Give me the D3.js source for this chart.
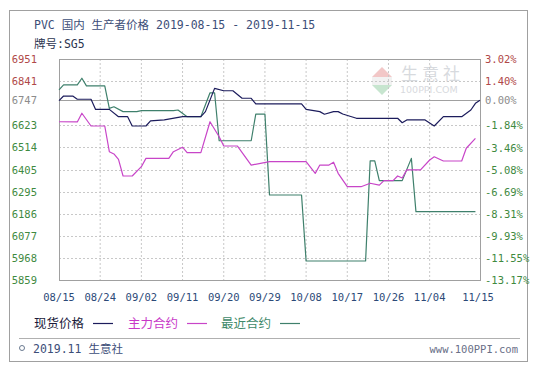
<!DOCTYPE html>
<html>
<head>
<meta charset="utf-8">
<script src="https://cdn.jsdelivr.net/npm/d3@7"></script>
<style>
  body { margin: 0; background: #fff; }
  text { font-family: "DejaVu Sans Mono", "Noto Sans CJK SC", monospace; }
</style>
</head>
<body>
<div id="chart"></div>
<script>
// 现货价格 (spot)
const spotDates = ["2019-08-15","2019-08-16","2019-08-18","2019-08-19","2019-08-22","2019-08-23","2019-08-26","2019-08-28","2019-08-30","2019-08-31","2019-09-03","2019-09-04","2019-09-07","2019-09-11","2019-09-15","2019-09-16","2019-09-18","2019-09-20","2019-09-22","2019-09-24","2019-09-26","2019-09-27","2019-10-07","2019-10-08","2019-10-11","2019-10-12","2019-10-14","2019-10-15","2019-10-16","2019-10-19","2019-10-28","2019-10-29","2019-10-30","2019-11-03","2019-11-05","2019-11-07","2019-11-11","2019-11-13","2019-11-14","2019-11-15"];
const spotValues = [6745,6768,6768,6752,6752,6702,6702,6666,6666,6620,6620,6645,6650,6666,6666,6691,6806,6794,6794,6757,6757,6729,6729,6702,6691,6678,6691,6691,6679,6658,6658,6636,6650,6650,6620,6666,6666,6699,6732,6747];

// 主力合约 (main contract)
const mainDates = ["2019-08-15","2019-08-19","2019-08-20","2019-08-22","2019-08-25","2019-08-26","2019-08-27","2019-08-28","2019-08-29","2019-08-31","2019-09-02","2019-09-03","2019-09-08","2019-09-09","2019-09-11","2019-09-12","2019-09-15","2019-09-17","2019-09-19","2019-09-20","2019-09-23","2019-09-26","2019-09-30","2019-10-08","2019-10-10","2019-10-11","2019-10-13","2019-10-14","2019-10-15","2019-10-17","2019-10-20","2019-10-22","2019-10-24","2019-10-25","2019-10-27","2019-10-28","2019-10-29","2019-10-30","2019-11-02","2019-11-04","2019-11-05","2019-11-07","2019-11-11","2019-11-12","2019-11-14"];
const mainValues = [6641,6640,6683,6620,6620,6493,6482,6455,6373,6373,6419,6460,6460,6493,6515,6488,6488,6641,6567,6521,6521,6427,6444,6444,6386,6427,6427,6441,6386,6320,6320,6337,6328,6350,6350,6373,6363,6403,6403,6452,6468,6447,6447,6510,6559];

// 最近合约 (nearest contract)
const nearDates = ["2019-08-15","2019-08-16","2019-08-19","2019-08-20","2019-08-21","2019-08-25","2019-08-26","2019-08-27","2019-08-29","2019-09-01","2019-09-02","2019-09-09","2019-09-10","2019-09-12","2019-09-15","2019-09-17","2019-09-18","2019-09-19","2019-09-26","2019-09-27","2019-09-29","2019-09-30","2019-10-07","2019-10-08","2019-10-21","2019-10-22","2019-10-23","2019-10-24","2019-10-29","2019-10-31","2019-11-01","2019-11-14"];
const nearValues = [6798,6823,6823,6856,6818,6818,6707,6715,6691,6691,6696,6696,6699,6666,6666,6784,6784,6547,6547,6679,6679,6279,6279,5953,5953,6448,6448,6350,6350,6460,6197,6197];

const leftTicks = [6951, 6841, 6747, 6623, 6514, 6405, 6295, 6186, 6077, 5968, 5859];
const rightTicks = ["3.02%", "1.40%", "0.00%", "-1.84%", "-3.46%", "-5.08%", "-6.69%", "-8.31%", "-9.93%", "-11.55%", "-13.17%"];
const xTicks = ["08/15", "08/24", "09/02", "09/11", "09/20", "09/29", "10/08", "10/17", "10/26", "11/04", "11/15"];
const baseValue = 6747;

const margin = { top: 59, right: 64, bottom: 89, left: 59 };
const width = 544 - margin.left - margin.right;
const height = 369 - margin.top - margin.bottom;

const svgRoot = d3.select("#chart").append("svg")
  .attr("width", 544)
  .attr("height", 369);

// outer frame
svgRoot.append("rect")
  .attr("x", 9.5).attr("y", 10.5)
  .attr("width", 518).attr("height", 351)
  .attr("fill", "none").attr("stroke", "#a0a0a0");

svgRoot.append("text")
  .attr("x", 34).attr("y", 29)
  .attr("font-size", 11.5).attr("fill", "#3c4e78")
  .text("PVC 国内 生产者价格 2019-08-15 - 2019-11-15");
svgRoot.append("text")
  .attr("x", 34).attr("y", 48)
  .attr("font-size", 11.5).attr("fill", "#2c3550")
  .text("牌号:SG5");

const svg = svgRoot.append("g")
  .attr("transform", `translate(${margin.left},${margin.top})`);

const parse = d3.timeParse("%Y-%m-%d");
const x = d3.scaleTime()
  .domain([parse("2019-08-15"), parse("2019-11-15")])
  .range([0, width]);
const y = d3.scaleLinear()
  .domain([5859, 6951])
  .range([height, 0]);

// watermark
const wm = svg.append("g").attr("opacity", 0.55);
wm.append("path")
  .attr("d", "M323,8 L333,18 L313,18 Z").attr("fill", "#e89a9a");
wm.append("path")
  .attr("d", "M313,26 L333,26 L323,36 Z").attr("fill", "#9ad0a8");
wm.append("rect").attr("x", 313).attr("y", 18).attr("width", 20).attr("height", 8).attr("fill", "#e8e8e8");
wm.append("text").attr("x", 342).attr("y", 21)
  .attr("font-size", 17).attr("fill", "#b8bcc4").attr("letter-spacing", 4)
  .style("font-family", "Noto Sans CJK SC")
  .text("生意社");
wm.append("text").attr("x", 341).attr("y", 34)
  .attr("font-size", 9.5).attr("fill", "#b8bcc4")
  .style("font-family", "DejaVu Sans")
  .text("100PPI.COM");

// grid
const xTickDates = xTicks.map(t => parse(`2019-${t.replace("/", "-")}`));
svg.append("g")
  .selectAll("line")
  .data(xTickDates.slice(1, -1))
  .join("line")
  .attr("x1", d => x(d)).attr("x2", d => x(d))
  .attr("y1", 0).attr("y2", height)
  .attr("stroke", "#c8c8c8").attr("stroke-dasharray", "2,2");

svg.append("g")
  .selectAll("line")
  .data(leftTicks.filter(d => d !== baseValue && d !== 6951 && d !== 5859))
  .join("line")
  .attr("x1", 0).attr("x2", width)
  .attr("y1", d => Math.round(y(d)) + 0.5).attr("y2", d => Math.round(y(d)) + 0.5)
  .attr("stroke", "#c8c8c8").attr("stroke-dasharray", "2,2");

svg.append("line")
  .attr("x1", 0).attr("x2", width)
  .attr("y1", Math.round(y(baseValue)) + 0.5).attr("y2", Math.round(y(baseValue)) + 0.5)
  .attr("stroke", "#a0a0a0");

svg.append("rect")
  .attr("x", 0.5).attr("y", 0.5)
  .attr("width", width).attr("height", height)
  .attr("fill", "none").attr("stroke", "#a0a0a0");

// axis labels
const tickColor = d => d > baseValue ? "#b04848" : (d === baseValue ? "#8c8c8c" : "#3f8a3f");
svg.append("g")
  .selectAll("text")
  .data(leftTicks)
  .join("text")
  .attr("x", -22).attr("y", d => y(d) + 4)
  .attr("text-anchor", "end")
  .attr("font-size", 10.5)
  .attr("fill", tickColor)
  .text(d => d);

svg.append("g")
  .selectAll("text")
  .data(rightTicks)
  .join("text")
  .attr("x", width + 5).attr("y", d => y(baseValue * (1 + parseFloat(d) / 100)) + 4)
  .attr("font-size", 10.5)
  .attr("fill", d => parseFloat(d) > 0 ? "#b04848" : (parseFloat(d) === 0 ? "#8c8c8c" : "#3f8a3f"))
  .text(d => d);

svg.append("g")
  .selectAll("text")
  .data(xTicks)
  .join("text")
  .attr("x", (d, i) => x(xTickDates[i]) - (i === xTicks.length - 1 ? 2 : 0))
  .attr("y", height + 21)
  .attr("text-anchor", "middle")
  .attr("font-size", 10.5)
  .attr("fill", "#2c4a78")
  .text(d => d);

// series
const series = [
  { name: "现货价格", dates: spotDates, values: spotValues, color: "#1c1c5c", text: "#1a1a3a" },
  { name: "主力合约", dates: mainDates, values: mainValues, color: "#c845c8", text: "#c838c8" },
  { name: "最近合约", dates: nearDates, values: nearValues, color: "#3f806c", text: "#3f8a6a" }
];

const line = d3.line()
  .x(d => x(d.date))
  .y(d => y(d.value));

// near first, then main, spot on top
[series[2], series[1], series[0]].forEach(s => {
  const pts = s.dates.map((d, i) => ({ date: parse(d), value: s.values[i] }));
  svg.append("path")
    .datum(pts)
    .attr("fill", "none")
    .attr("stroke", s.color)
    .attr("stroke-width", 1.2)
    .attr("stroke-linejoin", "round")
    .attr("d", line);
});

// legend
const legendX = [34, 128, 221];
const legend = svgRoot.append("g");
series.forEach((s, i) => {
  legend.append("text")
    .attr("x", legendX[i]).attr("y", 328)
    .attr("font-size", 12.5)
    .attr("fill", s.text)
    .style("font-family", "Noto Sans CJK SC")
    .text(s.name);
  legend.append("line")
    .attr("x1", legendX[i] + 59).attr("x2", legendX[i] + 79)
    .attr("y1", 323.5).attr("y2", 323.5)
    .attr("stroke", s.color).attr("stroke-width", 1.2);
});

// footer
svgRoot.append("line")
  .attr("x1", 19).attr("x2", 520)
  .attr("y1", 338.5).attr("y2", 338.5)
  .attr("stroke", "#b0b0b0");
svgRoot.append("circle")
  .attr("cx", 22).attr("cy", 348).attr("r", 2.5)
  .attr("fill", "none").attr("stroke", "#6a7a90").attr("stroke-width", 1);
svgRoot.append("text")
  .attr("x", 33).attr("y", 353)
  .attr("font-size", 11.5).attr("fill", "#3c4e78")
  .text("2019.11 生意社");
svgRoot.append("text")
  .attr("x", 518).attr("y", 353)
  .attr("text-anchor", "end")
  .attr("font-size", 10.5).attr("fill", "#6a7088")
  .text("www.100PPI.com");
</script>
</body>
</html>
